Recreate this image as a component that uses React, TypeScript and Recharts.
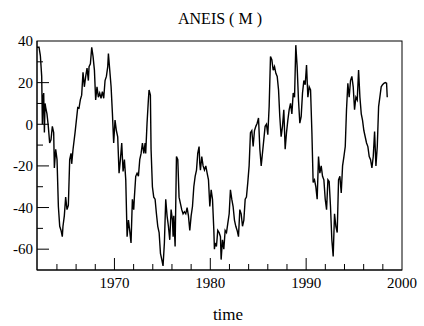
import React from 'react';
import { LineChart, Line, XAxis, YAxis } from 'recharts';

// time (decimal years) and ANEIS values
const time = [
  1961.92, 1962.13, 1962.27, 1962.41, 1962.48, 1962.55, 1962.62, 1962.69, 1962.76, 1962.83,
  1962.96, 1963.10, 1963.24, 1963.38, 1963.52, 1963.66, 1963.73, 1963.87, 1964.01, 1964.15,
  1964.29, 1964.43, 1964.56, 1964.63, 1964.77, 1964.91, 1965.05, 1965.19, 1965.33, 1965.47,
  1965.54, 1965.68, 1965.89, 1966.10, 1966.17, 1966.30, 1966.44, 1966.58, 1966.72, 1966.86,
  1967.00, 1967.14, 1967.28, 1967.35, 1967.49, 1967.63, 1967.77, 1967.91, 1968.04, 1968.18,
  1968.32, 1968.46, 1968.60, 1968.74, 1968.88, 1969.02, 1969.16, 1969.30, 1969.37, 1969.51,
  1969.65, 1969.79, 1969.92, 1970.06, 1970.20, 1970.34, 1970.48, 1970.62, 1970.76, 1970.90,
  1971.04, 1971.18, 1971.32, 1971.46, 1971.59, 1971.73, 1971.87, 1972.01, 1972.08, 1972.22,
  1972.36, 1972.50, 1972.64, 1972.78, 1972.92, 1973.06, 1973.20, 1973.26, 1973.40, 1973.54,
  1973.61, 1973.75, 1973.82, 1973.96, 1974.10, 1974.24, 1974.38, 1974.52, 1974.66, 1974.80,
  1974.94, 1975.07, 1975.21, 1975.35, 1975.49, 1975.63, 1975.77, 1975.91, 1976.05, 1976.12,
  1976.19, 1976.33, 1976.47, 1976.61, 1976.74, 1976.88, 1977.02, 1977.16, 1977.30, 1977.44,
  1977.58, 1977.72, 1977.86, 1978.00, 1978.14, 1978.28, 1978.42, 1978.56, 1978.69, 1978.83,
  1978.90, 1978.97, 1979.11, 1979.25, 1979.39, 1979.53, 1979.67, 1979.81, 1979.95, 1980.09,
  1980.23, 1980.37, 1980.43, 1980.50, 1980.64, 1980.78, 1980.92, 1981.06, 1981.13, 1981.27,
  1981.41, 1981.55, 1981.69, 1981.83, 1981.97, 1982.10, 1982.24, 1982.38, 1982.52, 1982.66,
  1982.80, 1982.94, 1983.08, 1983.22, 1983.36, 1983.50, 1983.64, 1983.77, 1983.91, 1984.05,
  1984.19, 1984.33, 1984.47, 1984.61, 1984.75, 1984.89, 1985.03, 1985.17, 1985.31, 1985.44,
  1985.58, 1985.72, 1985.86, 1986.00, 1986.14, 1986.28, 1986.42, 1986.56, 1986.70, 1986.84,
  1986.98, 1987.12, 1987.25, 1987.39, 1987.53, 1987.67, 1987.81, 1987.95, 1988.09, 1988.23,
  1988.37, 1988.51, 1988.65, 1988.79, 1988.92, 1989.06, 1989.20, 1989.34, 1989.48, 1989.62,
  1989.76, 1989.90, 1990.04, 1990.18, 1990.32, 1990.46, 1990.60, 1990.73, 1990.87, 1991.01,
  1991.15, 1991.29, 1991.43, 1991.57, 1991.71, 1991.85, 1991.99, 1992.13, 1992.27, 1992.40,
  1992.54, 1992.68, 1992.82, 1992.96, 1993.10, 1993.24, 1993.38, 1993.52, 1993.66, 1993.80,
  1993.94, 1994.08, 1994.21, 1994.35, 1994.49, 1994.63, 1994.77, 1994.91, 1995.05, 1995.19,
  1995.33, 1995.47, 1995.61, 1995.75, 1995.88, 1996.02, 1996.16, 1996.30, 1996.44, 1996.58,
  1996.72, 1996.86, 1997.00, 1997.14, 1997.28, 1997.42, 1997.56, 1997.69, 1997.83, 1997.97,
  1998.11, 1998.25, 1998.39, 1998.46,
];

const aneis = [
  37, 37, 33, 23, 0, 13, 15, -4, 10, 8,
  5, -1, -9, -7.5, -1, -4, -21, -12, -17, -39.5,
  -49, -51, -54, -49, -44, -35, -41, -39, -17, -14,
  -19, -12, -4, 5, 8, 7.7, 11.7, 14, 25, 18,
  23, 27, 21, 27.7, 29, 37, 32.5, 26, 11.7, 18,
  13, 15, 12.5, 15.7, 12.5, 21, 23, 27.7, 34, 26,
  18, 5, -9, 2, -3, -6, -23.5, -17, -9, -22.7,
  -17, -26.7, -54, -46, -51, -57, -36, -41, -35, -25,
  -23.5, -25, -17, -14, -9, -14, -9, -14, 0.5, 11.7,
  16.5, 14, -12, -30, -35, -36, -43, -49, -52, -62,
  -65, -68, -57, -36, -44, -49, -55.5, -41, -46, -54,
  -44, -58.7, -15.5, -17, -35, -38, -41, -43, -42, -43,
  -40, -44, -51, -44, -39.5, -30, -25, -22, -14, -10.7,
  -18.7, -22, -15.5, -20, -22, -20, -23.5, -26.7, -39.5, -31.5,
  -36, -51, -60, -57, -58.7, -51, -52, -54, -65, -55.5,
  -60, -51, -52, -47.5, -43, -31.5, -36, -39.5, -46, -49,
  -51, -54, -41, -43, -49, -46, -36, -35, -28, -20,
  -4, -3, -10.7, -3, -1, 0.5, 3, -12, -20, -14,
  -7.5, -1, 0, -5, 8.5, 32.5, 31, 26, 27.7, 24.5,
  23, 16.5, 3.7, -6, -1, 7, -12, -4, 2, 7,
  10, 5, 15, 13, 38, 27.7, 11.7, 0.5, 3.7, 15,
  21, 19, 28.5, 13, 18, 16.5, -4, -28, -26.7, -30,
  -36, -15.5, -23.5, -20, -25, -26.7, -36, -41, -26.7, -27.5,
  -39.5, -55.5, -63.5, -43, -49, -52, -26.7, -25, -33, -20,
  -15.5, -10.7, 7, 19.7, 13, 21, 23, 18, 7, 13,
  11.7, 26, 13, 5, 2, -3, -6, -9, -10.7, -15.5,
  -17, -21, -15.5, -3.5, -20, -10.7, 8.5, 13, 18, 19,
  19.7, 20, 19.7, 13,
];

const yTicks = [-70, -60, -50, -40, -30, -20, -10, 0, 10, 20, 30, 40];
const yLabels = [40, 20, 0, -20, -40, -60];
const xTicks = [1964, 1966, 1968, 1970, 1972, 1974, 1976, 1978, 1980, 1982, 1984, 1986, 1988, 1990, 1992, 1994, 1996, 1998, 2000];
const xLabels = [1970, 1980, 1990, 2000];

const data = time.map((t, i) => ({ t, v: aneis[i] }));

const FONT = 'Liberation Serif';

// plot frame, from the chart margins below
const M = { top: 41, right: 22, bottom: 26, left: 0 };
const Y_AXIS_W = 37;
const X_AXIS_H = 30;
const W = 424;
const H = 326;

function YTick(props: any) {
  const { x, y, payload } = props;
  const v = payload.value;
  const axisX = x + 4;
  const major = yLabels.includes(v);
  return (
    <g>
      {v !== -70 && v !== 40 && (
        <line x1={axisX} x2={axisX + (major ? 12 : 6)} y1={y} y2={y} stroke='#000' strokeWidth={1} />
      )}
      {major && (
        <text x={x} y={y} dy='0.35em' textAnchor='end' fontFamily={FONT} fontSize={15} fill='#000'>
          {v}
        </text>
      )}
    </g>
  );
}

function XTick(props: any) {
  const { x, y, payload } = props;
  const v = payload.value;
  const axisY = y - 7;
  const major = xLabels.includes(v);
  return (
    <g>
      {v !== 2000 && (
        <line x1={x} x2={x} y1={axisY} y2={axisY - (major ? 12 : 6)} stroke='#000' strokeWidth={1} />
      )}
      {major && (
        <text x={x} y={y} dy='0.71em' textAnchor='middle' fontFamily={FONT} fontSize={15} fill='#000'>
          {v}
        </text>
      )}
    </g>
  );
}

export default function App() {
  const plotL = M.left + Y_AXIS_W;
  const plotW = W - plotL - M.right;
  const plotH = H - M.top - M.bottom - X_AXIS_H;
  return (
    <div style={{ position: 'relative', width: W, height: H, background: '#fff' }}>
      <style>{'body{margin:0}'}</style>
      <LineChart width={W} height={H} data={data} margin={M}>
        <XAxis
          dataKey='t'
          type='number'
          domain={[1961.92, 2000]}
          ticks={xTicks}
          allowDataOverflow
          height={X_AXIS_H}
          tickSize={0}
          tickMargin={7}
          tickLine={false}
          axisLine={{ stroke: '#000' }}
          tick={<XTick />}
          interval={0}
        />
        <YAxis
          type='number'
          domain={[-70, 40]}
          ticks={yTicks}
          allowDataOverflow
          width={Y_AXIS_W}
          tickSize={0}
          tickMargin={4}
          tickLine={false}
          axisLine={{ stroke: '#000' }}
          tick={<YTick />}
          interval={0}
        />
        <Line type='linear' dataKey='v' stroke='#000' strokeWidth={1.4} dot={false} isAnimationActive={false} />
      </LineChart>
      <svg width={W} height={H} style={{ position: 'absolute', left: 0, top: 0, pointerEvents: 'none' }}>
        <rect x={plotL} y={M.top} width={plotW} height={plotH} fill='none' stroke='#000' strokeWidth={1} />
        <text x={220} y={24} textAnchor='middle' fontFamily={FONT} fontSize={16} fill='#000'>
          ANEIS ( M )
        </text>
        <text x={228} y={320} textAnchor='middle' fontFamily={FONT} fontSize={17} fill='#000'>
          time
        </text>
      </svg>
    </div>
  );
}
